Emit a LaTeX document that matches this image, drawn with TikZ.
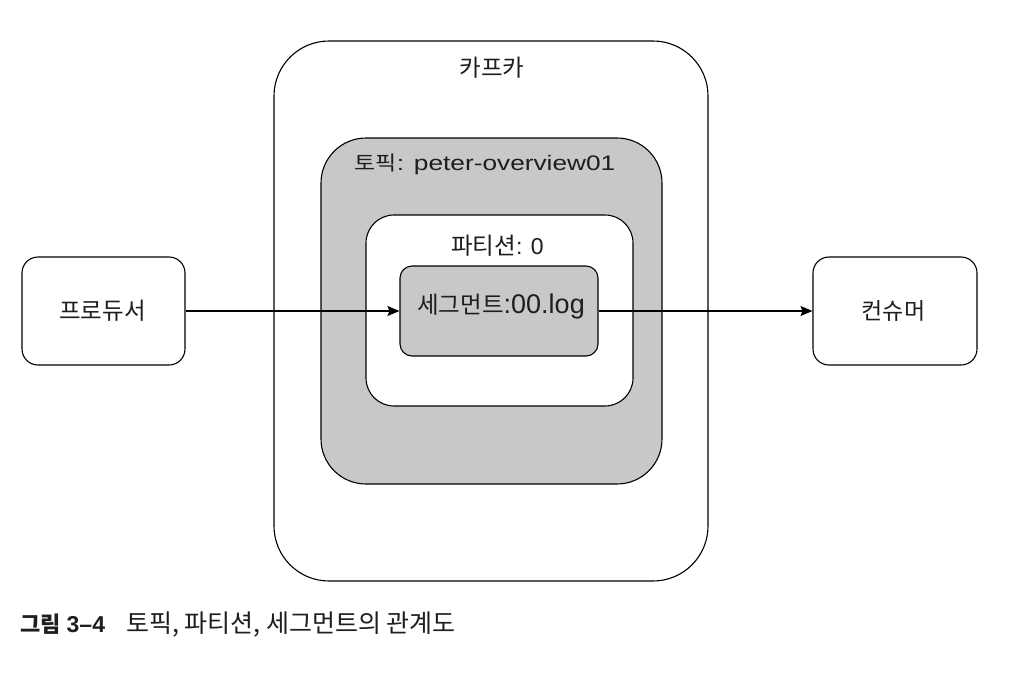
\documentclass[tikz,border=0pt]{standalone}
\usepackage{fontspec}
\setmainfont{Liberation Sans}
\newfontfamily\kr{Noto Sans CJK KR}
\usetikzlibrary{arrows.meta}
\definecolor{boxgray}{RGB}{200,200,200}
\definecolor{ink}{RGB}{30,30,30}
\newcommand{\fs}[1]{\fontsize{#1}{#1}\selectfont}
\begin{document}
\begin{tikzpicture}[x=1pt,y=-1pt,
  box/.style={draw=black, line width=1.1pt, inner sep=0pt, text=ink},
  lbl/.style={inner sep=0pt, text=ink},
  flow/.style={draw=black, line width=1.1pt, -{Stealth[length=12pt,width=10pt,inset=2pt]}}]
\useasboundingbox (0,0) rectangle (1022,672);
\fill[white] (0,0) rectangle (1022,672);

\node[box, fill=white, rounded corners=55pt, minimum width=434pt, minimum height=540pt] (kafka) at (491,311) {};
\node[box, fill=boxgray, rounded corners=45pt, minimum width=341pt, minimum height=346pt] (topic) at (491.5,311) {};
\node[box, fill=white, rounded corners=28pt, minimum width=267pt, minimum height=191pt] (part) at (499.5,310.5) {};
\node[box, fill=boxgray, rounded corners=12pt, minimum width=198pt, minimum height=90pt] (seg) at (499,311) {};
\node[box, fill=white, rounded corners=16pt, minimum width=163pt, minimum height=108pt] (prod) at (103.5,311) {};
\node[box, fill=white, rounded corners=16pt, minimum width=164pt, minimum height=108pt] (cons) at (895,311) {};

\node[lbl] (kafkalbl) at (492,68) {\kr\fs{23.5}카프카};
\node[lbl] (topiclbl) at (485,164) {\scalebox{1.15}[1]{\kr\fs{20}토픽}\scalebox{1.25}[1]{\fs{21}: peter-overview01}};
\node[lbl] (partlbl) at (497.5,246) {\kr\fs{23.5}파티션\normalfont\fs{23}: 0};
\node[lbl] (seglbl) at (501,307) {\kr\fs{23.5}세그먼트\normalfont\fs{27}:00.log};
\node[lbl] (prodlbl) at (102.5,311) {\kr\fs{23.5}프로듀서};
\node[lbl] (conslbl) at (893.5,311) {\kr\fs{23}컨슈머};

\draw[flow] (prod.east) -- (seg.west);
\draw[flow] (seg.east) -- (cons.west);

\node[lbl, anchor=west] (caption) at (20,625) {\kr\fs{22}\bfseries 그림\hspace{6pt}\normalfont\bfseries\fs{23}3–4\hspace{21pt}\kr\mdseries\fs{25}토픽, 파티션, 세그먼트의 관계도};
\end{tikzpicture}
\end{document}
